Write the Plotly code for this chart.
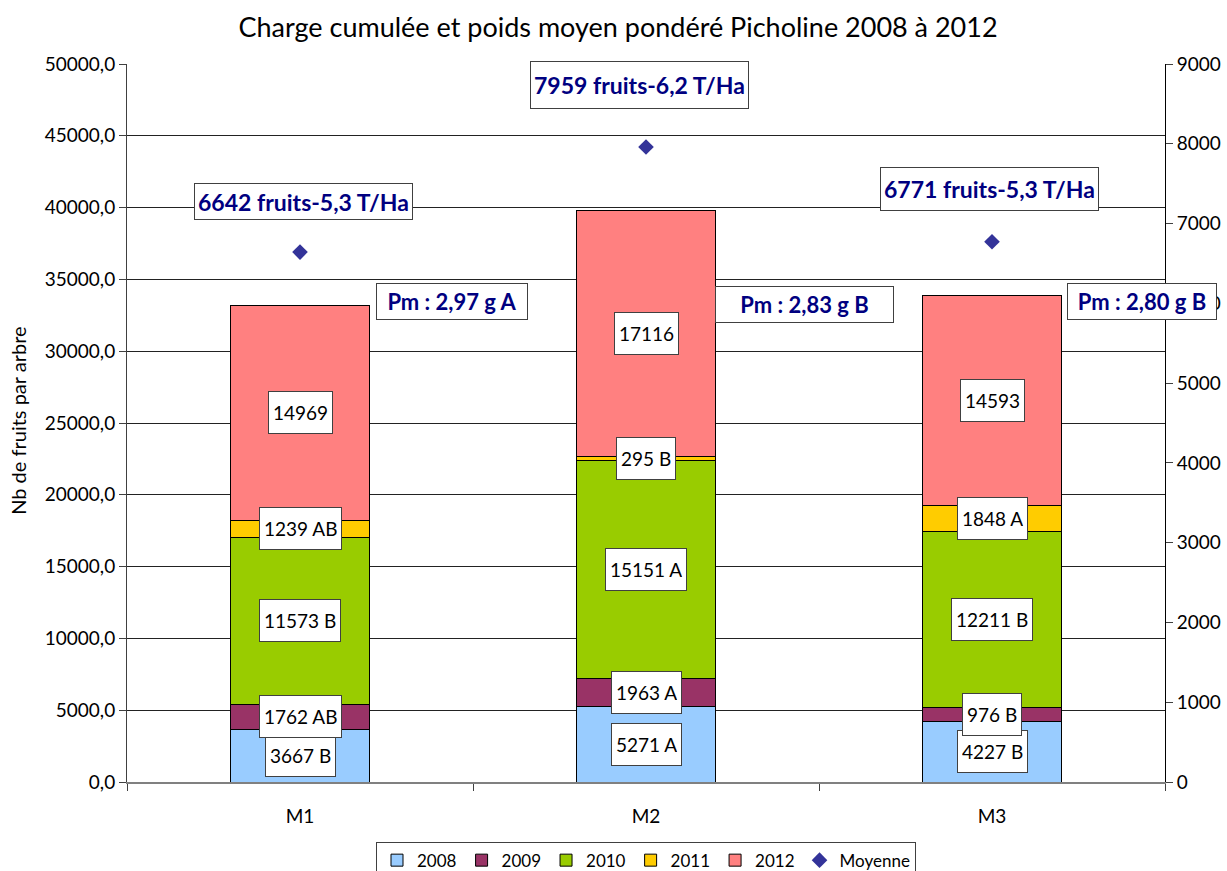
import plotly.graph_objects as go

categories = ["M1", "M2", "M3"]
years = ["2008", "2009", "2010", "2011", "2012"]
v2008 = [3667, 5271, 4227]
v2009 = [1762, 1963, 976]
v2010 = [11573, 15151, 12211]
v2011 = [1239, 295, 1848]
v2012 = [14969, 17116, 14593]
l2008 = ["B", "A", "B"]
l2009 = ["AB", "A", "B"]
l2010 = ["B", "A", "B"]
l2011 = ["AB", "B", "A"]
l2012 = ["", "", ""]
moyenne = [6642, 7959, 6771]
moy_tonnage = ["5,3", "6,2", "5,3"]
pm_values = ["2,97 g A", "2,83 g B", "2,80 g B"]
colors = ["#99CCFF", "#993366", "#99CC00", "#FFCC00", "#FF8080"]
left_ticks = [0, 5000, 10000, 15000, 20000, 25000, 30000, 35000, 40000, 45000, 50000]
right_ticks = [0, 1000, 2000, 3000, 4000, 5000, 6000, 7000, 8000, 9000]

series = [v2008, v2009, v2010, v2011, v2012]
letters = [l2008, l2009, l2010, l2011, l2012]

FONT = "Lato"
fig = go.Figure()
for name, vals, col in zip(years, series, colors):
    fig.add_trace(go.Bar(x=categories, y=vals, name=name, marker=dict(color=col, line=dict(color="#000000", width=1)),
                         width=0.4, hoverinfo="skip"))
fig.add_trace(go.Scatter(x=categories, y=moyenne, name="Moyenne", mode="markers", yaxis="y2",
                         marker=dict(symbol="diamond", size=12, color="#333399"), hoverinfo="skip"))

annotations = []
# segment labels
for ci in range(len(categories)):
    base = 0
    for si, vals in enumerate(series):
        v = vals[ci]
        txt = f"{v}" + (f" {letters[si][ci]}" if letters[si][ci] else "")
        annotations.append(dict(x=ci, y=base + v / 2, xref="x", yref="y", text=txt, showarrow=False,
                                font=dict(family=FONT, size=19, color="#000000"), bgcolor="#FFFFFF",
                                bordercolor="#404040", borderwidth=1, borderpad=4, height=33))
        base += v

# Moyenne labels
moy_shift = [(3, 51), (-7, 62), (-3, 53)]
moy_height = [29, 40, 36]
for ci, m in enumerate(moyenne):
    annotations.append(dict(x=ci, y=m, xref="x", yref="y2", text=f"<b>{m} fruits-{moy_tonnage[ci]} T/Ha</b>",
                            showarrow=False, xshift=moy_shift[ci][0], yshift=moy_shift[ci][1],
                            font=dict(family=FONT, size=23, color="#000080"), bgcolor="#FFFFFF",
                            bordercolor="#404040", borderwidth=1, borderpad=3, height=moy_height[ci]))

# Pm labels
pm_pos = [(0.439, 33496), (1.457, 33287), (2.434, 33496)]
pm_width = [144, 171, 142]
for ci, p in enumerate(pm_values):
    annotations.append(dict(x=pm_pos[ci][0], y=pm_pos[ci][1], xref="x", yref="y", text=f"<b>Pm : {p}</b>",
                            showarrow=False, font=dict(family=FONT, size=22, color="#000080"),
                            bgcolor="#FFFFFF", bordercolor="#404040", borderwidth=1, borderpad=3,
                            width=pm_width[ci], height=29))

# y axis title
annotations.append(dict(x=-0.105, y=0.503, xref="paper", yref="paper", xanchor="center", yanchor="middle",
                        text="Nb de fruits par arbre", textangle=-90, showarrow=False,
                        font=dict(family=FONT, size=20, color="#000000")))

fig.update_layout(
    width=1227, height=871,
    margin=dict(l=127, r=62, t=64, b=89, autoexpand=False),
    barmode="stack",
    plot_bgcolor="#FFFFFF", paper_bgcolor="#FFFFFF",
    font=dict(family=FONT, size=19, color="#000000"),
    title=dict(text="Charge cumulée et poids moyen pondéré Picholine 2008 à 2012", xref="container",
               x=0.5037, xanchor="center", y=1 - 28 / 871, yanchor="middle",
               font=dict(family=FONT, size=27, color="#000000")),
    xaxis=dict(type="category", range=[-0.5, 2.5], showline=True, linecolor="#808080", linewidth=2,
               ticks="outside", tickson="boundaries", ticklen=7, tickcolor="#404040",
               ticklabelstandoff=16, tickfont=dict(family=FONT, size=19), showgrid=False),
    yaxis=dict(range=[0, 50000], tickvals=left_ticks, ticktext=[f"{t},0" for t in left_ticks],
               showline=True, linecolor="#404040", linewidth=1, ticks="outside", ticklen=7,
               tickcolor="#404040", showgrid=True, gridcolor="#222222", gridwidth=1, zeroline=False,
               tickfont=dict(family=FONT, size=19)),
    yaxis2=dict(range=[0, 9000], tickvals=right_ticks, ticktext=[str(t) for t in right_ticks],
                overlaying="y", side="right", showline=True, linecolor="#000000", linewidth=1,
                ticks="outside", ticklen=7, tickcolor="#404040", showgrid=False, zeroline=False,
                tickfont=dict(family=FONT, size=19)),
    legend=dict(orientation="h", x=0.5, xanchor="center", xref="paper", y=-0.083, yanchor="top",
                bordercolor="#404040", borderwidth=1, font=dict(family=FONT, size=17), itemwidth=30,
                traceorder="normal", tracegroupgap=0),
    annotations=annotations,
    showlegend=True,
)

fig.write_html("out.html", config={"displayModeBar": False},
               post_script="document.body.style.margin='0';document.body.style.overflow='hidden';")
